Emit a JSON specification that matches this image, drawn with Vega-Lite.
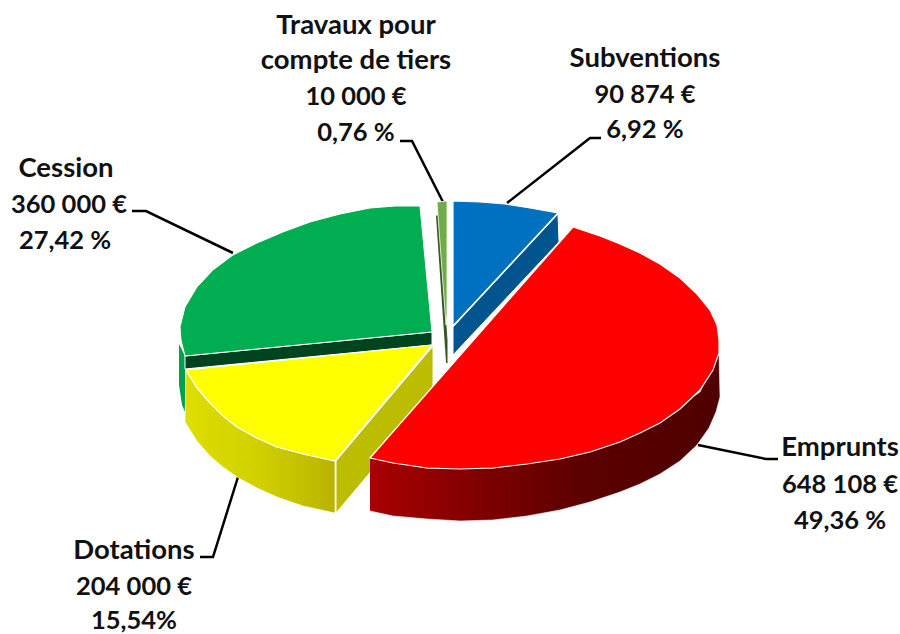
{"$schema":"https://vega.github.io/schema/vega-lite/v6.json","width":900,"height":634,"autosize":"none","padding":0,"background":"white","view":{"stroke":null},
"datasets":{"shapes":[
{"p":"greenSide","i":0,"x":179,"y":344},{"p":"greenSide","i":1,"x":185,"y":356},{"p":"greenSide","i":2,"x":185,"y":412},{"p":"greenSide","i":3,"x":182,"y":405},{"p":"greenSide","i":4,"x":179,"y":385},
{"p":"yellowOuter","i":0,"x":186,"y":370},{"p":"yellowOuter","i":1,"x":197,"y":388},{"p":"yellowOuter","i":2,"x":210,"y":403},{"p":"yellowOuter","i":3,"x":223,"y":416},{"p":"yellowOuter","i":4,"x":237,"y":427},{"p":"yellowOuter","i":5,"x":257,"y":438},{"p":"yellowOuter","i":6,"x":277,"y":447},{"p":"yellowOuter","i":7,"x":303,"y":454},{"p":"yellowOuter","i":8,"x":335,"y":461},{"p":"yellowOuter","i":9,"x":335,"y":513},{"p":"yellowOuter","i":10,"x":303,"y":506},{"p":"yellowOuter","i":11,"x":277,"y":497},{"p":"yellowOuter","i":12,"x":257,"y":488},{"p":"yellowOuter","i":13,"x":237,"y":477},{"p":"yellowOuter","i":14,"x":223,"y":467},{"p":"yellowOuter","i":15,"x":210,"y":456},{"p":"yellowOuter","i":16,"x":197,"y":441},{"p":"yellowOuter","i":17,"x":185,"y":422},{"p":"yellowOuter","i":18,"x":186,"y":370},
{"p":"yellowInner","i":0,"x":336,"y":461},{"p":"yellowInner","i":1,"x":433,"y":346},{"p":"yellowInner","i":2,"x":433,"y":398},{"p":"yellowInner","i":3,"x":336,"y":513},{"p":"yellowInner","i":4,"x":336,"y":461},
{"p":"greenWall","i":0,"x":185,"y":356},{"p":"greenWall","i":1,"x":432,"y":332},{"p":"greenWall","i":2,"x":432,"y":345},{"p":"greenWall","i":3,"x":185,"y":369},{"p":"greenWall","i":4,"x":185,"y":356},
{"p":"greenTop","i":0,"x":432,"y":332},{"p":"greenTop","i":1,"x":420,"y":206},{"p":"greenTop","i":2,"x":395,"y":206},{"p":"greenTop","i":3,"x":370,"y":208},{"p":"greenTop","i":4,"x":340,"y":214},{"p":"greenTop","i":5,"x":310,"y":222},{"p":"greenTop","i":6,"x":283,"y":232},{"p":"greenTop","i":7,"x":257,"y":243},{"p":"greenTop","i":8,"x":233,"y":255},{"p":"greenTop","i":9,"x":213,"y":270},{"p":"greenTop","i":10,"x":197,"y":287},{"p":"greenTop","i":11,"x":185,"y":307},{"p":"greenTop","i":12,"x":180,"y":327},{"p":"greenTop","i":13,"x":181,"y":340},{"p":"greenTop","i":14,"x":185,"y":356},{"p":"greenTop","i":15,"x":432,"y":332},
{"p":"yellowTop","i":0,"x":432,"y":345},{"p":"yellowTop","i":1,"x":186,"y":370},{"p":"yellowTop","i":2,"x":197,"y":388},{"p":"yellowTop","i":3,"x":210,"y":403},{"p":"yellowTop","i":4,"x":223,"y":416},{"p":"yellowTop","i":5,"x":237,"y":427},{"p":"yellowTop","i":6,"x":257,"y":438},{"p":"yellowTop","i":7,"x":277,"y":447},{"p":"yellowTop","i":8,"x":303,"y":454},{"p":"yellowTop","i":9,"x":335,"y":461},{"p":"yellowTop","i":10,"x":432,"y":345},
{"p":"travDark","i":0,"x":436,"y":216},{"p":"travDark","i":1,"x":438,"y":216},{"p":"travDark","i":2,"x":447,"y":340},{"p":"travDark","i":3,"x":447,"y":363},{"p":"travDark","i":4,"x":446,"y":362},
{"p":"travTop","i":0,"x":437,"y":202},{"p":"travTop","i":1,"x":447,"y":201},{"p":"travTop","i":2,"x":447,"y":315},{"p":"travTop","i":3,"x":446,"y":325},{"p":"travTop","i":4,"x":437,"y":202},
{"p":"blueSide","i":0,"x":453,"y":327},{"p":"blueSide","i":1,"x":558,"y":214},{"p":"blueSide","i":2,"x":559,"y":242},{"p":"blueSide","i":3,"x":453,"y":355},{"p":"blueSide","i":4,"x":453,"y":327},
{"p":"blueTop","i":0,"x":453,"y":326},{"p":"blueTop","i":1,"x":453,"y":201},{"p":"blueTop","i":2,"x":480,"y":202},{"p":"blueTop","i":3,"x":505,"y":204},{"p":"blueTop","i":4,"x":530,"y":208},{"p":"blueTop","i":5,"x":558,"y":213},{"p":"blueTop","i":6,"x":453,"y":326},
{"p":"redSide","i":0,"x":370,"y":458},{"p":"redSide","i":1,"x":427,"y":468},{"p":"redSide","i":2,"x":493,"y":468},{"p":"redSide","i":3,"x":560,"y":458},{"p":"redSide","i":4,"x":640,"y":433},{"p":"redSide","i":5,"x":700,"y":392},{"p":"redSide","i":6,"x":719,"y":353},{"p":"redSide","i":7,"x":720,"y":397},{"p":"redSide","i":8,"x":716,"y":412},{"p":"redSide","i":9,"x":709,"y":428},{"p":"redSide","i":10,"x":697,"y":445},{"p":"redSide","i":11,"x":680,"y":461},{"p":"redSide","i":12,"x":660,"y":474},{"p":"redSide","i":13,"x":640,"y":484},{"p":"redSide","i":14,"x":620,"y":492},{"p":"redSide","i":15,"x":590,"y":502},{"p":"redSide","i":16,"x":560,"y":510},{"p":"redSide","i":17,"x":527,"y":516},{"p":"redSide","i":18,"x":493,"y":520},{"p":"redSide","i":19,"x":460,"y":521},{"p":"redSide","i":20,"x":427,"y":519},{"p":"redSide","i":21,"x":393,"y":516},{"p":"redSide","i":22,"x":370,"y":511},
{"p":"redTop","i":0,"x":573,"y":227},{"p":"redTop","i":1,"x":600,"y":236},{"p":"redTop","i":2,"x":620,"y":244},{"p":"redTop","i":3,"x":640,"y":253},{"p":"redTop","i":4,"x":660,"y":264},{"p":"redTop","i":5,"x":680,"y":278},{"p":"redTop","i":6,"x":697,"y":294},{"p":"redTop","i":7,"x":710,"y":310},{"p":"redTop","i":8,"x":717,"y":325},{"p":"redTop","i":9,"x":719,"y":340},{"p":"redTop","i":10,"x":719,"y":353},{"p":"redTop","i":11,"x":713,"y":370},{"p":"redTop","i":12,"x":700,"y":390},{"p":"redTop","i":13,"x":680,"y":409},{"p":"redTop","i":14,"x":660,"y":423},{"p":"redTop","i":15,"x":640,"y":433},{"p":"redTop","i":16,"x":620,"y":442},{"p":"redTop","i":17,"x":590,"y":452},{"p":"redTop","i":18,"x":560,"y":459},{"p":"redTop","i":19,"x":527,"y":464},{"p":"redTop","i":20,"x":493,"y":468},{"p":"redTop","i":21,"x":460,"y":469},{"p":"redTop","i":22,"x":427,"y":468},{"p":"redTop","i":23,"x":393,"y":463},{"p":"redTop","i":24,"x":370,"y":458},{"p":"redTop","i":25,"x":573,"y":227}
],
"leaders":[
{"s":"Subventions","i":0,"x":507,"y":203},{"s":"Subventions","i":1,"x":590,"y":138},{"s":"Subventions","i":2,"x":601,"y":138},
{"s":"Travaux","i":0,"x":443,"y":202},{"s":"Travaux","i":1,"x":412,"y":141},{"s":"Travaux","i":2,"x":400,"y":141},
{"s":"Cession","i":0,"x":233,"y":253},{"s":"Cession","i":1,"x":146,"y":211},{"s":"Cession","i":2,"x":132,"y":211},
{"s":"Emprunts","i":0,"x":698,"y":445},{"s":"Emprunts","i":1,"x":766,"y":459},{"s":"Emprunts","i":2,"x":778,"y":459},
{"s":"Dotations","i":0,"x":238,"y":477},{"s":"Dotations","i":1,"x":213,"y":557},{"s":"Dotations","i":2,"x":200,"y":557}
],
"labels":[
{"k":"name","t":"Travaux pour","x":356,"y":26},{"k":"name","t":"compte de tiers","x":356,"y":61},{"k":"num","t":"10 000 €","x":356,"y":97},{"k":"num","t":"0,76 %","x":356,"y":133},
{"k":"name","t":"Subventions","x":645,"y":59},{"k":"num","t":"90 874 €","x":645,"y":95},{"k":"num","t":"6,92 %","x":645,"y":130},
{"k":"name","t":"Cession","x":66,"y":169},{"k":"num","t":"360 000 €","x":69,"y":205},{"k":"num","t":"27,42 %","x":65,"y":241},
{"k":"name","t":"Emprunts","x":840,"y":448},{"k":"num","t":"648 108 €","x":840,"y":485},{"k":"num","t":"49,36 %","x":840,"y":521},
{"k":"name","t":"Dotations","x":134,"y":551},{"k":"num","t":"204 000 €","x":134,"y":587},{"k":"num","t":"15,54%","x":134,"y":621}
]},
"data":{"name":"shapes"},
"encoding":{
"x":{"field":"x","type":"quantitative","scale":{"domain":[0,900],"nice":false,"zero":false},"axis":null},
"y":{"field":"y","type":"quantitative","scale":{"domain":[634,0],"nice":false,"zero":false},"axis":null},
"order":{"field":"i","type":"quantitative"}},
"layer":[
{"data":{"name":"leaders"},"mark":{"type":"line","stroke":"black","strokeWidth":2.5,"strokeJoin":"miter"},"encoding":{"detail":{"field":"s"}}},
{"transform":[{"filter":"datum.p==='greenSide'"}],"mark":{"type":"line","fill":"#00a04c","stroke":null}},
{"transform":[{"filter":"datum.p==='yellowOuter'"}],"mark":{"type":"line","stroke":"white","strokeWidth":0.6,"fill":{"gradient":"linear","x1":0,"x2":1,"y1":0,"y2":0,"stops":[{"offset":0,"color":"#dede00"},{"offset":0.5,"color":"#d0d000"},{"offset":1,"color":"#b8b400"}]}}},
{"transform":[{"filter":"datum.p==='yellowInner'"}],"mark":{"type":"line","fill":"#bcbc00","stroke":"white","strokeWidth":1}},
{"transform":[{"filter":"datum.p==='greenWall'"}],"mark":{"type":"line","fill":"#00431f","stroke":"white","strokeWidth":1}},
{"transform":[{"filter":"datum.p==='greenTop'"}],"mark":{"type":"line","fill":"#00ad50","stroke":"white","strokeWidth":1}},
{"transform":[{"filter":"datum.p==='yellowTop'"}],"mark":{"type":"line","fill":"#ffff00","stroke":"white","strokeWidth":1.2}},
{"transform":[{"filter":"datum.p==='travDark'"}],"mark":{"type":"line","fill":"#385723","stroke":"#385723","strokeWidth":1}},
{"transform":[{"filter":"datum.p==='travTop'"}],"mark":{"type":"line","fill":"#70ad47","stroke":"white","strokeWidth":0.8}},
{"transform":[{"filter":"datum.p==='blueSide'"}],"mark":{"type":"line","fill":"#00558f","stroke":"white","strokeWidth":1}},
{"transform":[{"filter":"datum.p==='blueTop'"}],"mark":{"type":"line","fill":"#0070c0","stroke":"white","strokeWidth":1.2}},
{"transform":[{"filter":"datum.p==='redSide'"}],"mark":{"type":"line","stroke":"white","strokeWidth":0.6,"fill":{"gradient":"linear","x1":0,"x2":1,"y1":0,"y2":0,"stops":[{"offset":0,"color":"#aa0000"},{"offset":0.35,"color":"#7a0000"},{"offset":0.62,"color":"#5a0000"},{"offset":1,"color":"#500000"}]}}},
{"transform":[{"filter":"datum.p==='redTop'"}],"mark":{"type":"line","fill":"#ff0000","stroke":"white","strokeWidth":1.2}},
{"data":{"name":"labels"},"transform":[{"filter":"datum.k==='name'"}],"mark":{"type":"text","font":"Lato","fontWeight":"bold","fontSize":27.5,"color":"#111111","align":"center","baseline":"middle"},"encoding":{"text":{"field":"t"}}},
{"data":{"name":"labels"},"transform":[{"filter":"datum.k==='num'"}],"mark":{"type":"text","font":"Lato","fontWeight":"bold","fontSize":25.5,"color":"#111111","align":"center","baseline":"middle"},"encoding":{"text":{"field":"t"}}}
]}
